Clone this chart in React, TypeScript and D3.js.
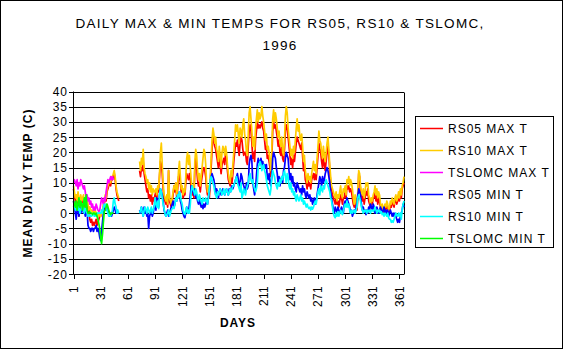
import React from "react";
import * as d3 from "d3";

const W = 565;
const H = 351;

const seriesNames = [
  "RS05 MAX T",
  "RS10 MAX T",
  "TSLOMC MAX T",
  "RS05 MIN T",
  "RS10 MIN T",
  "TSLOMC MIN T",
];
const seriesColors = ["#ff0000", "#ffcc00", "#ff00ff", "#0000ff", "#00ffff", "#00ff00"];

const dayTicks = [1, 31, 61, 91, 121, 151, 181, 211, 241, 271, 301, 331, 361];
const tempTicks = [-20, -15, -10, -5, 0, 5, 10, 15, 20, 25, 30, 35, 40];

// daily values, day 1..366 (null = no record)
const rs05Max = [
  8, 6, 4, 3, 5, 2, -1, 3, 4, 5,
  2, 4, 3, 1, 4, 3, 0, 2, -2, -3,
  -2, -4, -3, -4, -3, -2, -4, -3, -2, -1,
  -1, 0, 1, 2, 3, 5, 4, 7, 8, 9,
  10, 9, 11, 11, 12, 13, 11, 8, 6, 5, 4,
  null, null, null, null, null, null, null, null, null, null, null,
  null, null, null, null, null, null, null, null, null, null, null,
  14, 12, 15, 14, 17, 13, 11,
  9, 7, 8, 5, 6, 4, 6, 3, 5, 4,
  6, 7, 5, 8, 7, 12, 17, 16, 13, 8,
  5, 4, 3, 4, 2, 14, 4, 3, 2, 4,
  6, 9, 7, 10, 5, 8, 12, 13, 10, 7,
  8, 5, 6, 6, 10, 13, 12, 11, 13, 11,
  8, 6, 7, 5, 14, 18, 15, 11, 9, 10,
  7, 10, 12, 14, 15, 14, 12, 8, 6, 7,
  5, 10, 15, 21, 25, 24, 22, 21, 19, 17,
  15, 19, 16, 13, 16, 17, 18, 16, 20, 18,
  14, 11, 10, 9, 12, 10, 13, 17, 20, 23,
  22, 24, 21, 19, 23, 25, 24, 21, 19, 20,
  20, 17, 16, 22, 27, 29, 27, 23, 18, 20,
  17, 24, 27, 30, 28, 29, 28, 29, 30, 28,
  27, 24, 21, 22, 18, 19, 17, 15, 12, 18,
  27, 30, 28, 29, 27, 25, 22, 24, 20, 19,
  22, 18, 17, 21, 27, 29, 28, 25, 22, 19,
  16, 18, 15, 19, 17, 20, 23, 25, 24, 23,
  22, 21, 23, 19, 14, 16, 11, 10, 8, 11,
  9, 10, 8, 11, 12, 13, 11, 13, 11, 15,
  19, 23, 21, 20, 17, 15, 18, 16, 14, 17,
  20, 22, 19, 14, 10, 8, 6, 5, 4, 3,
  5, 3, 4, 2, 4, 6, 5, 3, 5, 5,
  7, 5, 9, 8, 9, 7, 8, 7, 5, 3,
  2, 4, 3, 1, 5, 13, 12, 7, 5, 4,
  6, 3, 5, 7, 6, 8, 4, 3, 2, 4,
  3, 5, 5, 7, 4, 6, 3, 5, 4, 2,
  1, 2, 0, 1, 2, 1, 3, 2, 0, 1,
  3, 2, 4, 3, 2, 4, 5, 3, 4, 6,
  4, 7, 5, 8, 9, 10,
];

const rs10Max = [
  9, 7, 5, 6, 4, 7, 5, 3, 6, 4,
  5, 6, 3, 4, 2, 5, 3, 1, 2, 1,
  1, 0, 1, 0, 1, 0, -1, 0, -1, 0,
  -1, 0, 1, 3, 4, 6, 5, 8, 9, 10,
  11, 10, 12, 12, 13, 14, 12, 9, 7, 6, 5,
  null, null, null, null, null, null, null, null, null, null, null,
  null, null, null, null, null, null, null, null, null, null, null,
  17, 14, 18, 16, 21, 15, 13,
  12, 10, 11, 8, 10, 7, 9, 6, 8, 7,
  7, 8, 6, 9, 8, 13, 20, 23, 16, 10,
  6, 5, 4, 6, 3, 14, 5, 4, 3, 5,
  7, 9, 8, 10, 6, 9, 14, 17, 12, 8,
  9, 6, 8, 7, 12, 18, 20, 16, 19, 15,
  11, 8, 9, 7, 17, 21, 19, 14, 11, 13,
  9, 12, 15, 18, 21, 20, 16, 10, 7, 9,
  6, 12, 18, 24, 28, 26, 23, 25, 21, 20,
  17, 22, 19, 15, 20, 22, 21, 19, 22, 20,
  16, 13, 11, 10, 14, 12, 16, 20, 24, 29,
  27, 29, 26, 23, 28, 27, 25, 29, 31, 26,
  24, 20, 19, 26, 33, 35, 31, 27, 22, 25,
  21, 28, 31, 34, 30, 33, 31, 32, 35, 32,
  30, 27, 24, 26, 21, 22, 20, 17, 14, 21,
  31, 34, 30, 33, 31, 28, 25, 27, 23, 22,
  25, 20, 19, 24, 32, 35, 33, 28, 25, 22,
  19, 21, 18, 22, 20, 24, 28, 31, 27, 29,
  25, 24, 26, 22, 17, 19, 14, 12, 10, 13,
  11, 12, 10, 13, 15, 17, 14, 16, 13, 18,
  22, 27, 24, 23, 20, 18, 22, 19, 17, 20,
  23, 25, 21, 16, 12, 9, 8, 7, 6, 5,
  7, 4, 6, 5, 7, 9, 6, 5, 8, 7,
  9, 6, 11, 10, 12, 9, 11, 10, 8, 5,
  3, 6, 4, 2, 7, 14, 13, 9, 7, 6,
  8, 5, 7, 10, 9, 10, 6, 5, 3, 5,
  4, 6, 7, 9, 6, 8, 5, 7, 6, 3,
  2, 3, 1, 2, 3, 2, 4, 3, 1, 2,
  4, 3, 5, 4, 3, 5, 6, 4, 5, 7,
  5, 8, 6, 9, 10, 12,
];

const tslomcMax = [
  10, 11, 10, 9, 11, 8, 10, 9, 11, 10,
  9, 8, 9, 7, 5, 6, 4, 5, 3, 4,
  2, 3, 1, 2, 1, 3, 2, 1, 0.5, 1,
  3, 5, 4, 3, 5, 4, 7, 9, 11, 10,
  11, 12, 11, 12, 11,
];

const rs05Min = [
  4, 2, 0, -2, 1, 3, -1, 2, 0, 1,
  2, 0, 1, -1, 2, 1, -4, -5, -5, -6,
  -5, -5, -6, -5, -5, -4, -6, -5, -6, -8,
  -9, -6, -3, 0, 1, 2, 1, 2, 1, 0,
  -1, 0, -1, 0, 1, 2, 1, 0, 1, 0, 0,
  null, null, null, null, null, null, null, null, null, null, null,
  null, null, null, null, null, null, null, null, null, null, null,
  1, 0, 2, 1, -1, 2, 0,
  1, -1, 0, -5, -1, 0, 1, -1, 0, 2,
  3, 1, 5, 4, 2, 6, 8, 7, 6, 4,
  1, 0, -1, 0, 1, -1, 0, 1, 2, 3,
  4, 2, 3, 5, 4, 6, 5, 7, 4, 3,
  1, 0, -1, -1.5, 0, 2, 1, 0, 3, 6,
  9, 8, 7, 6, 8, 5, 6, 4, 3, 5,
  3, 2, 4, 1.5, 3, 2, 3, 4, 3, 5,
  7, 10, 12, 13, 12, 11, 9, 6, 8, 7,
  5, 7, 8, 6, 7, 8, 7, 6, 7, 8,
  7, 6, 8, 7, 8, 9, 8, 9, 10, 11,
  12, 13, 11, 9, 10, 13, 12, 10, 9, 8,
  7, 10, 8, 9, 16, 18, 19, 17, 10, 8,
  6, 8, 12, 16, 18, 17, 16, 18, 16, 17,
  15, 16, 15, 16, 12, 11, 13, 10, 9, 12,
  18, 20, 19, 18, 15, 13, 10, 12, 9, 11,
  12, 10, 14, 15, 18, 20, 19, 18, 14, 11,
  13, 10, 12, 9, 10, 8, 7, 10, 9, 8,
  7, 8, 6, 9, 7, 8, 6, 5, 7, 6,
  5, 6, 4, 5, 3, 4, 5, 3, 4, 6,
  8, 10, 12, 11, 9, 12, 10, 11, 13, 14,
  15, 14, 12, 10, 7, 5, 3, 1, 0, 2,
  1, 0, 2, 1, 0, 1, 2, 1, 0, 3,
  4, 3, 5, 4, 3, 2, 0, 1, -1, 0,
  1, 0, 2, 3, 6, 8, 7, 6, 3, 1,
  2, 0.5, 1, -0.5, 1, 0, 2, 1, 3, 2,
  1, 3, 2, 0, 1, 2, 1, 0, 1, 2,
  1, 0, 1, 2, 0, 1, 0, 1, -1, 0,
  1, 0, -1, 0, -1, 0, -1, -2, -3, -2,
  -3, -1, 0, 1, 3, 2,
];

const rs10Min = [
  2, 3, 1, 2, 3, 1, 2, 0, 1, 2,
  3, 1, 0, 2, 1, 0, -1, -1, -0.5, -1,
  -1, -0.5, 0, -1, -0.5, -1, 0, 0, 0, 0,
  0, 1, 0, 2, 3, 2, 3, 1, 0, -1,
  0, -1, 0, 1, 4, 5, 3, 2, 0, 1, 0,
  null, null, null, null, null, null, null, null, null, null, null,
  null, null, null, null, null, null, null, null, null, null, null,
  0, 1, 2, 0, -1, 1, 2,
  1, 0, 2, 1, 0, 1, 2, 0, 1, 2,
  5, 3, 2, 4, 1.5, 6, 8, 7, 5, 3,
  1.5, 0, -1, -0.5, 0, 1, -1, 0, 1, 1.5,
  2, 1.5, 3, 5, 4, 6, 5, 7, 6, 4,
  3, 1, 0, -0.5, 1, 2, 0, 1, 0, 3,
  7, 9, 8, 7, 6, 8, 7, 5, 4, 6,
  5, 4, 3, 5, 4, 4, 5, 4, 3, 5,
  8, 11, 12, 11, 10, 9, 7, 6, 5, 7,
  6, 7, 8, 7, 6, 7, 8, 6, 7, 8,
  7, 6, 7, 8, 7, 8, 9, 9, 10, 11,
  12, 10, 9, 8, 7, 10, 5, 6, 8, 7,
  6, 8, 9, 10, 12, 13, 11, 10, 11, 9,
  8, 7, 8, 10, 15, 16, 17, 16, 14, 15,
  16, 14, 13, 11, 9, 8, 7, 6, 8, 12,
  14, 13, 12, 10, 9, 8, 10, 9, 11, 10,
  12, 11, 13, 14, 12, 10, 13, 12, 9, 8,
  10, 7, 8, 6, 7, 5, 4, 6, 5, 4,
  5, 6, 4, 5, 3, 4, 3, 2, 3, 2,
  1.5, 2, 1, 2, 1.3, 2, 3, 4, 3, 5,
  7, 8, 6, 9, 8, 7, 9, 8, 10, 11,
  10, 9, 8, 7, 5, 4, 2, 0, -1, -1.5,
  0, -1, 0.5, -1, 0, 1, 0, -0.5, 1, 2,
  3, 2, 4, 2, 3, 1, 0, 1, 0, 0.5,
  1, 0, 1, 2, 5, 6, 5, 4, 2, 1,
  0, 1, 0.5, 1, 0, 1, 0.5, 1, 0, 1,
  1, 0.5, 1, 2, 1, 0, 1, 0.5, 1, 0,
  0.5, -0.5, 0, -1, 0, -0.5, -1, 0, -1.5, -2,
  -2, -3, -2.5, -3, -2, -1, 0, -0.5, -1, 0,
  -1, 0, -2, 1, 3, 4,
];

const tslomcMin = [
  4, 3, 2, 4, 1, 3, 5, 2, 4, 3,
  1, 3, 5, 2, 6, 1, 0, 0, 0.5, 0,
  0, -0.5, 0, 0, -0.5, 0, -1, -2, -3.5, -5,
  -8, -10, -7, -3, 0.5, 1, 2, 3, 2, 1,
  0, -0.5, 0, 0, 0,
];

const seriesValues = [rs05Max, rs10Max, tslomcMax, rs05Min, rs10Min, tslomcMin];

const FONT = "'Liberation Sans', Arial, sans-serif";

export default function App() {
  const x = d3.scaleLinear().domain([1, 366]).range([73.5, 404]);
  const y = d3.scaleLinear().domain([-20, 40]).range([274, 91.5]);

  const line = d3
    .line<number | null>()
    .defined((v) => v != null)
    .x((_, i) => x(i + 1))
    .y((v) => y(v as number));

  const px = (v: number) => Math.round(v) + 0.5;

  return (
    <svg
      width={W}
      height={H}
      style={{ position: "absolute", left: 0, top: 0, background: "#fff" }}
      fontFamily={FONT}
    >
      <rect x={0.5} y={0.5} width={562} height={348} fill="#fff" stroke="#000" />

      <text x={280} y={28} textAnchor="middle" fontSize={13.5} letterSpacing={1.3}>
        DAILY MAX &amp; MIN TEMPS FOR RS05, RS10 &amp; TSLOMC,
      </text>
      <text x={280} y={50} textAnchor="middle" fontSize={13.5} letterSpacing={1.3}>
        1996
      </text>

      {/* gridlines */}
      {tempTicks.map((t) => (
        <line key={"g" + t} x1={x(1)} x2={x(366)} y1={px(y(t))} y2={px(y(t))} stroke="#000" />
      ))}
      <line x1={404.5} x2={404.5} y1={px(y(40))} y2={px(y(-20))} stroke="#000" />

      {/* series */}
      {seriesValues.map((vals, i) => (
        <path
          key={seriesNames[i]}
          d={line(vals) || ""}
          fill="none"
          stroke={seriesColors[i]}
          strokeWidth={1.7}
          strokeLinejoin="round"
        />
      ))}

      {/* y axis */}
      <line x1={73.5} x2={73.5} y1={y(40)} y2={px(y(-20))} stroke="#000" />
      {tempTicks.map((t) => (
        <g key={"y" + t}>
          <line x1={69} x2={73.5} y1={px(y(t))} y2={px(y(t))} stroke="#000" />
          <text x={68} y={y(t) + 4.5} textAnchor="end" fontSize={12} letterSpacing={1}>
            {t}
          </text>
        </g>
      ))}

      {/* x axis */}
      {dayTicks.map((d) => (
        <g key={"x" + d}>
          <line x1={px(x(d))} x2={px(x(d))} y1={274} y2={279} stroke="#000" />
          <text
            transform={`translate(${x(d) + 4.5},${286}) rotate(-90)`}
            textAnchor="end"
            fontSize={12}
            letterSpacing={0.3}
          >
            {d}
          </text>
        </g>
      ))}

      <text
        transform={`translate(32,183) rotate(-90)`}
        textAnchor="middle"
        fontSize={12}
        fontWeight="bold"
        letterSpacing={1}
      >
        MEAN DAILY TEMP (C)
      </text>
      <text x={238} y={327} textAnchor="middle" fontSize={12} fontWeight="bold" letterSpacing={1}>
        DAYS
      </text>

      {/* legend */}
      <rect x={415.5} y={116.5} width={138} height={131} fill="#fff" stroke="#000" />
      {seriesNames.map((name, i) => {
        const cy = 128.5 + i * 22;
        return (
          <g key={"l" + name}>
            <line x1={420} x2={443} y1={cy} y2={cy} stroke={seriesColors[i]} strokeWidth={1.5} />
            <text x={448} y={cy + 4.5} fontSize={12} letterSpacing={1}>
              {name}
            </text>
          </g>
        );
      })}
    </svg>
  );
}
